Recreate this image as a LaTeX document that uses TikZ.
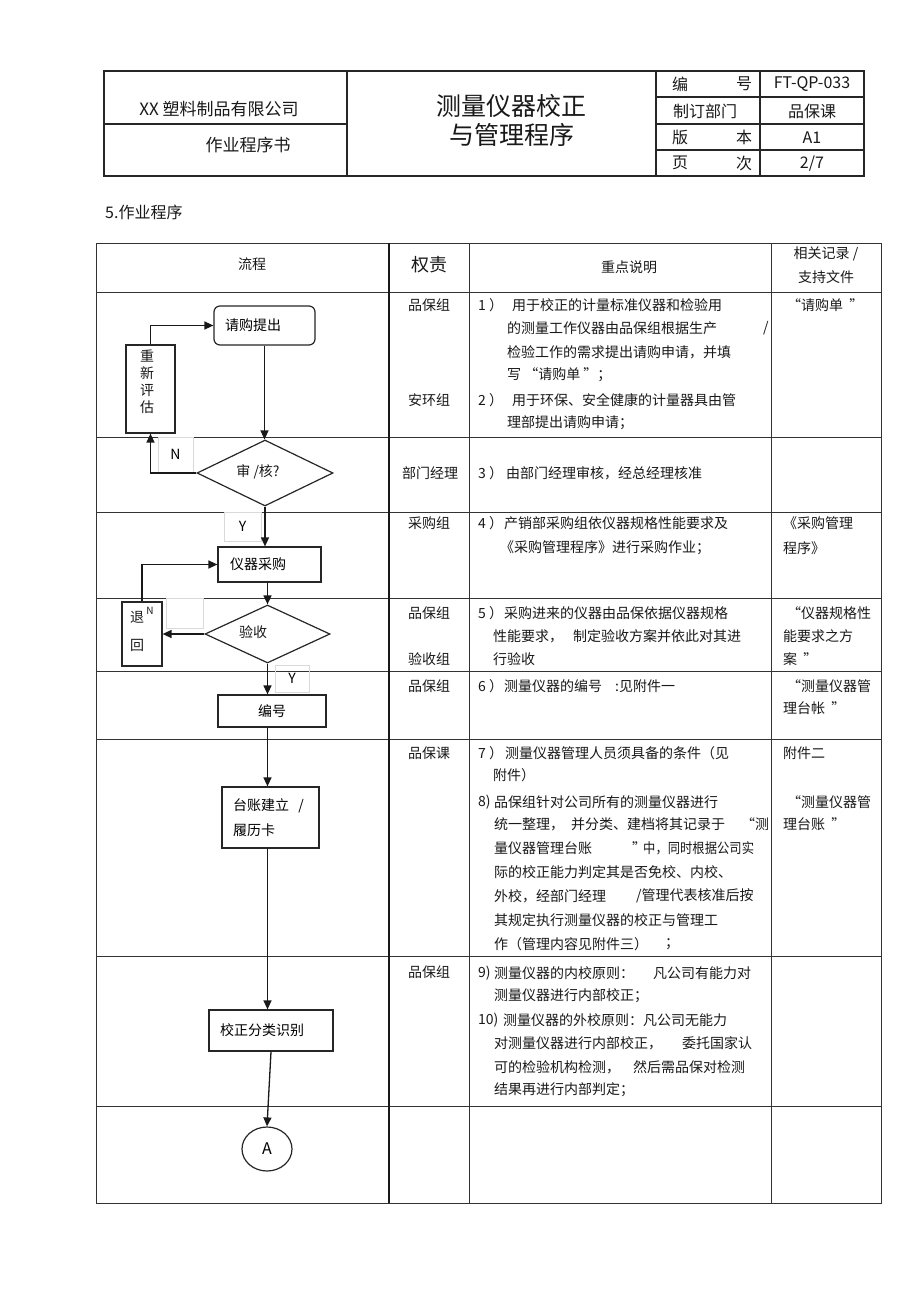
\documentclass[tikz,border=0pt]{standalone}
\usepackage{fontspec}
\setmainfont{Noto Sans CJK SC}
\usetikzlibrary{shapes.geometric,arrows.meta}
\newcommand\fs[1]{\fontsize{#1}{#1}\selectfont}
\begin{document}
\begin{tikzpicture}[x=1pt,y=-1pt,
  txt/.style={anchor=west,inner sep=0pt,font=\fs{14},text=black!90},
  ctr/.style={inner sep=0pt,font=\fs{14},text=black!90},
  grid/.style={draw=black!80,line width=1pt},
  frame/.style={draw=black!85,line width=1.6pt},
  box/.style={draw=black!85,line width=1.2pt,inner sep=0pt,font=\fs{14},align=left},
  lbl/.style={draw=black!15,line width=0.6pt,inner sep=0pt,font=\fs{14}},
  arr/.style={draw=black!90,line width=1.3pt,-{Triangle[length=9pt,width=8pt]}}]
\useasboundingbox[fill=white] (0,0) rectangle (920,1303);

% ---------- page header table ----------
\draw[frame] (104,71) rectangle (864,176);
\draw[frame] (347,71) -- (347,176) (656,71) -- (656,176) (760,71) -- (760,176);
\draw[frame] (104,124) -- (347,124);
\draw[frame] (656,97) -- (864,97) (656,124) -- (864,124) (656,150) -- (864,150);
\node[ctr,font=\fs{17}] (co) at (219,109) {XX 塑料制品有限公司};
\node[ctr,font=\fs{17}] (ws) at (248,145) {作业程序书};
\node[ctr,font=\fs{25}] (t1) at (511,106) {测量仪器校正};
\node[ctr,font=\fs{25}] (t2) at (512,135) {与管理程序};
\node[ctr,font=\fs{16}] (h1a) at (680,84) {编};
\node[ctr,font=\fs{16}] (h1b) at (744,84) {号};
\node[ctr,font=\fs{16}] (h2) at (705,111) {制订部门};
\node[ctr,font=\fs{16}] (h3a) at (680,137) {版};
\node[ctr,font=\fs{16}] (h3b) at (744,137) {本};
\node[ctr,font=\fs{16}] (h4a) at (680,163) {页};
\node[ctr,font=\fs{16}] (h4b) at (744,163) {次};
\node[ctr,font=\fs{16}] (v1) at (812,84) {FT-QP-033};
\node[ctr,font=\fs{16}] (v2) at (812,111) {品保课};
\node[ctr,font=\fs{16}] (v3) at (812,138) {A1};
\node[ctr,font=\fs{16}] (v4) at (812,164) {2/7};

\node[txt,font=\fs{16}] (sec) at (105,212) {5.作业程序};

% ---------- main table ----------
\draw[grid] (96,243) rectangle (881,1203);
\foreach \yy in {292,437,512,598,671,739,956,1106} \draw[grid] (96,\yy) -- (881,\yy);
\draw[grid] (469,243) -- (469,1203) (771,243) -- (771,1203);
\draw[draw=black!90,line width=2pt] (389,243) -- (389,1203);

\node[ctr] (hlc) at (252,264) {流程};
\node[ctr,font=\fs{18}] (hqz) at (429,265) {权责};
\node[ctr] (hsm) at (629,267) {重点说明};
\node[ctr] (hjl1) at (826,254) {相关记录 /};
\node[ctr] (hjl2) at (826,277) {支持文件};

% ---------- flow chart ----------
\node[box,rounded corners=6pt,minimum width=101pt,minimum height=39pt,text width=79pt] (qg) at (264.5,325.5) {请购提出};
\node[box,minimum width=49pt,minimum height=88pt] (cx) at (150.5,389) {};
\node[ctr,align=center,font=\fontsize{14}{17}\selectfont] (cxt) at (147,382) {重\\新\\评\\估};
\node[box,diamond,minimum width=136pt,minimum height=66pt] (sh) at (265,473) {};
\node[ctr] (sht) at (258,472) {审 /核?};
\node[lbl,minimum width=35pt,minimum height=35pt] (nl) at (175.5,454.5) {N};
\node[lbl,minimum width=37pt,minimum height=29pt] (yl) at (242.5,526.5) {Y};
\node[box,minimum width=103pt,minimum height=35pt,text width=79pt] (cg) at (269.5,564.5) {仪器采购};
\node[box,diamond,minimum width=125pt,minimum height=58pt] (ys) at (267.5,634) {};
\node[ctr] (yst) at (253,632) {验收};
\node[lbl,minimum width=37pt,minimum height=30pt] (el) at (184.5,613) {};
\node[box,minimum width=40pt,minimum height=64pt] (th) at (142,634) {};
\node[ctr] (th1) at (137,617) {退};
\node[ctr] (th2) at (137,645) {回};
\node[ctr,font=\fs{10}] (thn) at (150,611) {N};
\node[lbl,minimum width=34pt,minimum height=27pt] (yl2) at (292,678.5) {Y};
\node[box,minimum width=108pt,minimum height=32pt,align=center] (bh) at (272,711) {编号};
\node[box,minimum width=97pt,minimum height=61pt,text width=75pt,font=\fontsize{14}{25}\selectfont] (tz) at (270.5,817.5) {台账建立 \ /\\履历卡};
\node[box,minimum width=124pt,minimum height=41pt,text width=102pt] (jz) at (271,1030.5) {校正分类识别};
\node[draw=black!85,line width=1.2pt,ellipse,minimum width=50pt,minimum height=44pt,inner sep=0pt,font=\fs{16}] (A) at (267,1149) {A};

\draw[arr] (qg.south) -- (qg.south |- sh.north);
\draw[arr] (sh.west) -| (cx.south);
\draw[arr] (cx.north) |- (qg.west);
\draw[arr] (sh.south) -- (sh.south |- cg.north);
\draw[arr] (ys.north |- cg.south) -- (ys.north);
\draw[arr] (ys.west) -- (th.east);
\draw[arr] (th.north) |- (cg.west);
\draw[arr] (ys.south) -- (ys.south |- bh.north);
\draw[arr] (ys.south |- bh.south) -- (ys.south |- tz.north);
\draw[arr] (ys.south |- tz.south) -- (ys.south |- jz.north);
\draw[arr] (jz.south) -- (A.north);

% ---------- responsibility column ----------
\node[ctr] (q1) at (429,305) {品保组};
\node[ctr] (q2) at (429,400) {安环组};
\node[ctr] (q3) at (430,473) {部门经理};
\node[ctr] (q4) at (429,523) {采购组};
\node[ctr] (q5) at (429,613) {品保组};
\node[ctr] (q5b) at (429,659) {验收组};
\node[ctr] (q6) at (429,686) {品保组};
\node[ctr] (q7) at (429,753) {品保课};
\node[ctr] (q9) at (429,972) {品保组};

% ---------- description column ----------
\node[txt] (n1) at (478,305) {1 ）};
\node[txt] (d1a) at (512,305) {用于校正的计量标准仪器和检验用};
\node[txt] (d1b) at (507,328) {的测量工作仪器由品保组根据生产};
\node[txt] (d1s) at (763,328) {/};
\node[txt] (d1c) at (507,352) {检验工作的需求提出请购申请，并填};
\node[txt] (d1d) at (507,375) {写 “请购单 ”；};
\node[txt] (n2) at (478,400) {2 ）};
\node[txt] (d2a) at (512,400) {用于环保、安全健康的计量器具由管};
\node[txt] (d2b) at (507,423) {理部提出请购申请；};

\node[txt] (n3) at (478,473) {3 ）};
\node[txt] (d3) at (506,473) {由部门经理审核，经总经理核准};

\node[txt] (n4) at (478,523) {4 ）};
\node[txt] (d4a) at (504,523) {产销部采购组依仪器规格性能要求及};
\node[txt] (d4b) at (500,548) {《采购管理程序》进行采购作业；};

\node[txt] (n5) at (478,613) {5 ）};
\node[txt] (d5a) at (504,613) {采购进来的仪器由品保依据仪器规格};
\node[txt] (d5b) at (493,636) {性能要求，};
\node[txt] (d5b2) at (573,636) {制定验收方案并依此对其进};
\node[txt] (d5c) at (493,659) {行验收};

\node[txt] (n6) at (478,686) {6 ）};
\node[txt] (d6) at (504,686) {测量仪器的编号};
\node[txt] (d6b) at (615,686) {:见附件一};

\node[txt] (n7) at (478,753) {7 ）};
\node[txt] (d7a) at (505,753) {测量仪器管理人员须具备的条件（见};
\node[txt] (d7b) at (493,775) {附件）};
\node[txt] (n8) at (478,802) {8)};
\node[txt] (d8a) at (494,802) {品保组针对公司所有的测量仪器进行};
\node[txt] (d8b) at (494,824) {统一整理，};
\node[txt] (d8b2) at (571,824) {并分类、建档将其记录于};
\node[txt] (d8b3) at (741,824) {“测};
\node[txt] (d8c) at (494,848) {量仪器管理台账};
\node[txt] (d8cq) at (632,848) {”};
\node[txt] (d8c2) at (643,848) {\scalebox{0.88}[1]{中，同时根据公司实}};
\node[txt] (d8d) at (494,872) {际的校正能力判定其是否免校、内校、};
\node[txt] (d8e) at (494,896) {外校，经部门经理};
\node[txt] (d8e2) at (636,896) {/管理代表核准后按};
\node[txt] (d8f) at (494,920) {其规定执行测量仪器的校正与管理工};
\node[txt] (d8g) at (494,944) {作（管理内容见附件三）};
\node[txt] (d8g2) at (665,944) {；};

\node[txt] (n9) at (478,973) {9)};
\node[txt] (d9a) at (494,973) {测量仪器的内校原则：};
\node[txt] (d9a2) at (653,973) {凡公司有能力对};
\node[txt] (d9b) at (494,996) {测量仪器进行内部校正；};
\node[txt] (n10) at (478,1020) {10)};
\node[txt] (d10a) at (503,1020) {测量仪器的外校原则：凡公司无能力};
\node[txt] (d10b) at (494,1043) {对测量仪器进行内部校正，};
\node[txt] (d10b2) at (682,1043) {委托国家认};
\node[txt] (d10c) at (494,1067) {可的检验机构检测，};
\node[txt] (d10c2) at (633,1067) {然后需品保对检测};
\node[txt] (d10d) at (494,1090) {结果再进行内部判定；};

% ---------- records column ----------
\node[txt] (r1) at (787,305) {“请购单 \ ”};
\node[txt] (r4a) at (783,523) {《采购管理};
\node[txt] (r4b) at (783,548) {程序》};
\node[txt] (r5a) at (787,613) {“仪器规格性};
\node[txt] (r5b) at (783,636) {能要求之方};
\node[txt] (r5c) at (783,659) {案 \ ”};
\node[txt] (r6a) at (787,686) {“测量仪器管};
\node[txt] (r6b) at (783,708) {理台帐 \ ”};
\node[txt] (r7) at (783,753) {附件二};
\node[txt] (r8a) at (787,802) {“测量仪器管};
\node[txt] (r8b) at (783,824) {理台账 \ ”};
\end{tikzpicture}
\end{document}
